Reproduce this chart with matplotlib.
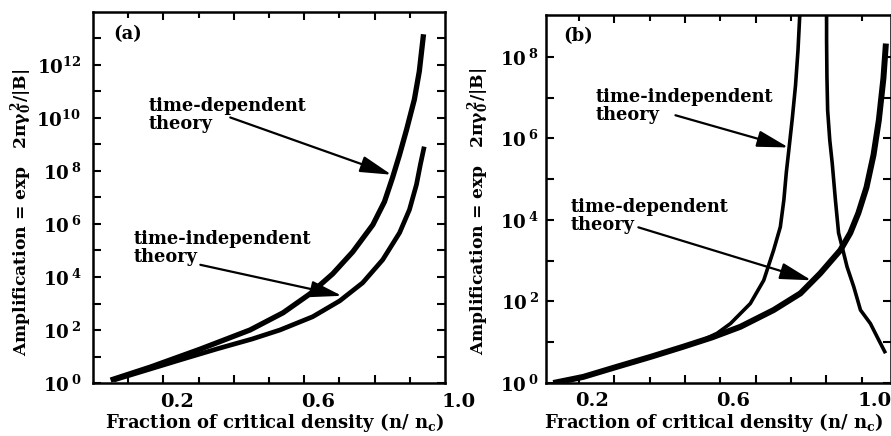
import matplotlib
matplotlib.use("Agg")
import matplotlib.pyplot as plt
import matplotlib.transforms as mtransforms
import numpy as np


OUTPUT_FILE = "out.png"

# Values; amplification is stored as log10.
A_TD_X = [0.050, 0.163, 0.305, 0.446, 0.540, 0.616, 0.681, 0.738, 0.795, 0.828,
          0.851, 0.871, 0.891, 0.913, 0.927, 0.939]
A_TD_LOG = [0.11, 0.60, 1.28, 2.00, 2.65, 3.36, 4.12, 4.95, 5.97, 6.84,
            7.75, 8.62, 9.57, 10.70, 11.76, 13.16]

A_TI_X = [0.059, 0.163, 0.257, 0.353, 0.452, 0.531, 0.624, 0.701, 0.766, 0.823,
          0.871, 0.899, 0.919, 0.930, 0.941]
A_TI_LOG = [0.11, 0.53, 0.91, 1.29, 1.66, 2.00, 2.50, 3.10, 3.78, 4.65,
            5.67, 6.54, 7.49, 8.24, 8.92]

B_TD_X = [0.027, 0.112, 0.208, 0.302, 0.395, 0.477, 0.557, 0.651, 0.727, 0.783,
          0.840, 0.868, 0.891, 0.914, 0.934, 0.949, 0.962, 0.969]
B_TD_LOG = [0.00, 0.15, 0.40, 0.64, 0.89, 1.12, 1.38, 1.79, 2.20, 2.69,
            3.26, 3.68, 4.17, 4.80, 5.60, 6.45, 7.48, 8.33]

# time-independent curve in (b) has a pole, so it is kept as two branches
B_TI_LEFT_X = [0.027, 0.112, 0.208, 0.302, 0.395, 0.457, 0.491, 0.529, 0.585, 0.623,
               0.651, 0.670, 0.680, 0.687, 0.694, 0.704, 0.713, 0.720, 0.725, 0.727]
B_TI_LEFT_LOG = [0.00, 0.15, 0.39, 0.64, 0.88, 1.08, 1.22, 1.46, 1.95, 2.52,
                 3.26, 3.83, 4.49, 5.17, 5.71, 6.50, 7.30, 8.16, 9.02, 9.26]
B_TI_RIGHT_X = [0.801, 0.801, 0.802, 0.804, 0.810, 0.817, 0.826, 0.835, 0.845, 0.859,
                0.878, 0.897, 0.925, 0.949, 0.968]
B_TI_RIGHT_LOG = [9.26, 8.41, 7.51, 6.69, 5.96, 5.39, 4.49, 3.68, 3.34, 2.85,
                  2.36, 1.79, 1.46, 1.05, 0.73]

X_MAJOR = [0.2, 0.4, 0.6, 0.8]
X_MINOR = [0.1, 0.3, 0.5, 0.7, 0.9]
X_LABEL_VALUES = [0.2, 0.6, 1.0]
X_LABELS = ["0.2", "0.6", "1.0"]

A_YTICK_EXP = list(range(0, 14))
A_YTICK_LABELS = [r"$10^{\,0}$", "", r"$10^{\,2}$", "", r"$10^{\,4}$", "", r"$10^{\,6}$", "",
                  r"$10^{\,8}$", "", r"$10^{10}$", "", r"$10^{12}$", ""]
B_YTICK_EXP = list(range(0, 9))
B_YTICK_LABELS = [r"$10^{\,0}$", "", r"$10^{\,2}$", "", r"$10^{\,4}$", "", r"$10^{\,6}$", "",
                  r"$10^{\,8}$"]

Y_LABEL = r"Amplification = exp   $2\mathrm{\pi\gamma}_0^{\,2}/|\mathrm{B}|$"
X_LABEL = r"Fraction of critical density (n/ n$_{\mathrm{c}}$)"

ARROW = dict(arrowstyle="-|>,head_length=1.6,head_width=0.42", color="black",
             lw=1.6, shrinkA=0, shrinkB=0, mutation_scale=12)
CURVE = dict(color="black", solid_capstyle="butt", solid_joinstyle="round")


def style_axes(ax, ylim_top, ytick_exp, ytick_labels, ylabel_pad, xlabel_pos, ylabel_pos,
               xlim, xshift_px):
    """Ticks, limits and labels shared by both panels."""
    ax.set_yscale("log")
    ax.set_xlim(*xlim)
    ax.set_ylim(1, 10.0 ** ylim_top)
    ax.set_yticks([10.0 ** e for e in ytick_exp], labels=ytick_labels)
    ax.yaxis.set_minor_locator(matplotlib.ticker.NullLocator())
    ax.set_xticks(X_MAJOR, labels=[""] * len(X_MAJOR))
    ax.set_xticks(X_MINOR, minor=True)
    ax.tick_params(which="both", direction="in", top=True, right=True, width=1.5)
    ax.tick_params(which="major", length=6)
    ax.tick_params(which="minor", length=4)
    ax.tick_params(axis="y", which="major", labelsize=13.2, pad=ylabel_pad)
    for spine in ax.spines.values():
        spine.set_linewidth(1.8)

    fig = ax.figure
    trans = mtransforms.blended_transform_factory(ax.transData, ax.transAxes)
    trans = trans + mtransforms.ScaledTranslation(xshift_px / fig.dpi, 0, fig.dpi_scale_trans)
    for value, label in zip(X_LABEL_VALUES, X_LABELS):
        ax.text(value, -0.050, label, transform=trans, ha="center", va="center",
                fontsize=14, clip_on=False)

    ax.set_xlabel(X_LABEL, fontsize=13)
    ax.xaxis.label.set_va("center")
    ax.xaxis.set_label_coords(*xlabel_pos)
    ax.set_ylabel(Y_LABEL, fontsize=12.3)
    ax.yaxis.label.set_va("center")
    ax.yaxis.set_label_coords(*ylabel_pos)


def main():
    plt.rcParams["font.family"] = "DejaVu Serif"
    plt.rcParams["font.weight"] = "bold"
    plt.rcParams["axes.labelweight"] = "bold"
    plt.rcParams["mathtext.fontset"] = "custom"
    plt.rcParams["mathtext.rm"] = "DejaVu Serif:bold"
    plt.rcParams["mathtext.it"] = "DejaVu Serif:italic:bold"
    plt.rcParams["mathtext.bf"] = "DejaVu Serif:bold"

    fig = plt.figure(figsize=(8.91, 4.36), dpi=100)
    ax_a = fig.add_axes([93 / 891, 53 / 436, 352 / 891, 371 / 436])
    ax_b = fig.add_axes([545.5 / 891, 53 / 436, 345 / 891, 368 / 436])

    # panel (a)
    ax_a.plot(A_TD_X, 10.0 ** np.array(A_TD_LOG), lw=3.8, **CURVE)
    ax_a.plot(A_TI_X, 10.0 ** np.array(A_TI_LOG), lw=3.4, **CURVE)
    style_axes(ax_a, 14.0, A_YTICK_EXP, A_YTICK_LABELS, 8.5,
               (0.517, -0.106), (-0.202, 0.461), (0.0, 1.0), 14)
    ax_a.text(0.097, 0.941, "(a)", transform=ax_a.transAxes, ha="center", va="center",
              fontsize=13)
    ax_a.text(0.158, 10.0 ** 10.81, "time-dependent\ntheory", ha="left", va="top",
              fontsize=12.8, linespacing=1.0)
    ax_a.annotate("", xy=(0.848, 10.0 ** 7.86), xytext=(0.390, 10.0 ** 10.02),
                  arrowprops=ARROW)
    ax_a.text(0.115, 10.0 ** 5.78, "time-independent\ntheory", ha="left", va="top",
              fontsize=12.8, linespacing=1.0)
    ax_a.annotate("", xy=(0.707, 10.0 ** 3.29), xytext=(0.305, 10.0 ** 4.46),
                  arrowprops=ARROW)

    # panel (b)
    ax_b.plot(B_TD_X, 10.0 ** np.array(B_TD_LOG), lw=4.3, **CURVE)
    ax_b.plot(B_TI_LEFT_X, 10.0 ** np.array(B_TI_LEFT_LOG), lw=2.6, **CURVE)
    ax_b.plot(B_TI_RIGHT_X, 10.0 ** np.array(B_TI_RIGHT_LOG), lw=2.6, **CURVE)
    style_axes(ax_b, 9.03, B_YTICK_EXP, B_YTICK_LABELS, 5.0,
               (0.486, -0.107), (-0.193, 0.467), (0.005, 0.982), -22)
    ax_b.text(0.094, 0.943, "(b)", transform=ax_b.transAxes, ha="center", va="center",
              fontsize=13)
    ax_b.text(0.146, 10.0 ** 7.25, "time-independent\ntheory", ha="left", va="top",
              fontsize=12.8, linespacing=1.0)
    ax_b.annotate("", xy=(0.693, 10.0 ** 5.78), xytext=(0.373, 10.0 ** 6.57),
                  arrowprops=ARROW)
    ax_b.text(0.075, 10.0 ** 4.53, "time-dependent\ntheory", ha="left", va="top",
              fontsize=12.8, linespacing=1.0)
    ax_b.annotate("", xy=(0.758, 10.0 ** 2.52), xytext=(0.268, 10.0 ** 3.82),
                  arrowprops=ARROW)

    fig.savefig(OUTPUT_FILE, dpi=100)
    plt.close(fig)


if __name__ == "__main__":
    main()
